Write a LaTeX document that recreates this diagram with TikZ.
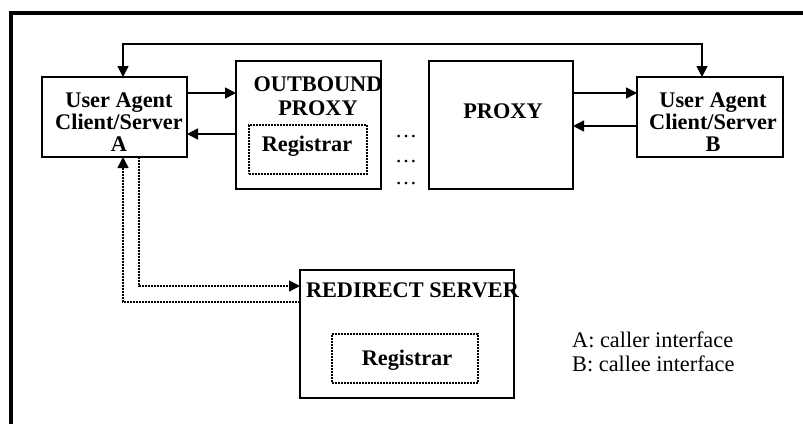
\documentclass[tikz,border=0pt]{standalone}
\usepackage{fontspec}
\setmainfont{Liberation Serif}
\usetikzlibrary{arrows.meta}
\begin{document}
\begin{tikzpicture}[x=1pt,y=-1pt,
  box/.style={draw,line width=1.2pt,inner sep=0pt,outer sep=0pt},
  dotbox/.style={draw,line width=1.6pt,dash pattern=on 2pt off 1pt,inner sep=0pt,outer sep=0pt},
  lbl/.style={font=\fontsize{22.3}{22}\selectfont\bfseries,align=center,anchor=base,inner sep=0pt},
  leg/.style={font=\fontsize{22.3}{24}\selectfont,anchor=base west,inner sep=0pt},
  dts/.style={font=\fontsize{22}{22}\selectfont,anchor=base,inner sep=0pt},
  arr/.style={line width=1.6pt,-{Triangle[length=11pt,width=11pt]}},
  dline/.style={line width=1.8pt,dash pattern=on 2pt off 1pt}]
\useasboundingbox (0,0) rectangle (803,424);
\fill[white] (0,0) rectangle (803,424);
% outer frame (top and left visible)
\draw[line width=4pt] (11,424) -- (11,13) -- (803,13);
% boxes
\node[box,minimum width=145pt,minimum height=80pt] (ua) at (114.5,117) {};
\node[box,minimum width=145pt,minimum height=128pt] (op) at (308.5,125) {};
\node[dotbox,minimum width=118pt,minimum height=49pt] (opr) at (308,149.5) {};
\node[box,minimum width=144pt,minimum height=128pt] (px) at (501,125) {};
\node[box,minimum width=146pt,minimum height=80pt] (ub) at (710,117) {};
\node[box,minimum width=214pt,minimum height=128pt] (rs) at (407,334) {};
\node[dotbox,minimum width=146pt,minimum height=49pt] (rsr) at (405,358.5) {};
% labels (base anchor = baseline of the last line)
\node[lbl] (uat) at (119,151) {User Agent\\Client/Server\\A};
\node[lbl] (opt) at (318,115) {OUTBOUND\\[2pt]PROXY};
\node[lbl] (oprt) at (307,151) {Registrar};
\node[lbl] (pxt) at (503,118) {PROXY};
\node[lbl] (ubt) at (713,151) {User Agent\\Client/Server\\B};
\node[lbl] (rst) at (412.5,297) {REDIRECT SERVER};
\node[lbl] (rsrt) at (407,365) {Registrar};
\node[leg] (lga) at (572,347) {A: caller interface};
\node[leg] (lgb) at (572,371) {B: callee interface};
% dots
\node[dts] (d1) at (406,137) {…};
\node[dts] (d2) at (406,162) {…};
\node[dts] (d3) at (406,184) {…};
% solid connectors
\coordinate (a1) at ([yshift=24pt]ua.east);
\coordinate (a2) at ([yshift=-9pt]op.west);
\coordinate (b1) at ([yshift=32pt]px.east);
\coordinate (b2) at ([yshift=-9pt]ub.west);
\draw[arr] (a1) -- (a1 -| op.west);
\draw[arr] (a2) -- (a2 -| ua.east);
\draw[arr] (b1) -- (b1 -| ub.west);
\draw[arr] (b2) -- (b2 -| px.east);
% top connector
\coordinate (ta) at ([xshift=8.5pt]ua.north);
\coordinate (tb) at ([xshift=-8pt]ub.north);
\draw[line width=1.6pt,{Triangle[length=11pt,width=11pt]}-{Triangle[length=11pt,width=11pt]}]
  (ta) -- ++(0,-33) -| (tb);
% dotted connectors
\coordinate (r1) at ([yshift=32pt]rs.west);
\coordinate (u1) at ([xshift=8.5pt]ua.south);
\coordinate (u2) at ([xshift=24.5pt]ua.south);
\coordinate (r2) at ([yshift=48pt]rs.west);
\draw[dline] (r1) -| ([yshift=-12pt]u1);
\draw[arr] ([yshift=-11pt]u1) -- (u1);
\draw[dline] (u2) |- ([xshift=-12pt]r2);
\draw[arr] ([xshift=-11pt]r2) -- (r2);
\end{tikzpicture}
\end{document}
